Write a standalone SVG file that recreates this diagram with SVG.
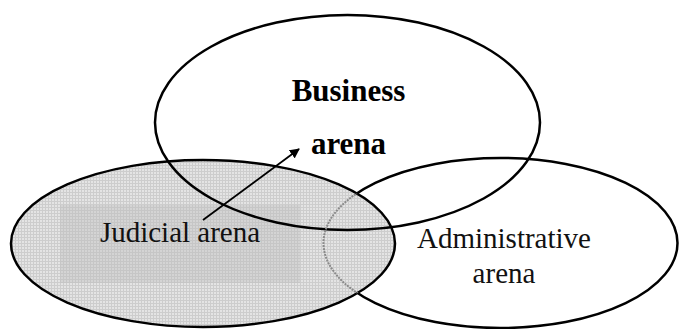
<svg xmlns="http://www.w3.org/2000/svg" width="679" height="329" viewBox="0 0 679 329">
<style>
.outline{fill:none;stroke:#000;stroke-width:2.5}
.reg{font-family:"Liberation Serif","Times New Roman",serif;font-size:29px;fill:#111;text-anchor:middle}
.bold{font-family:"Liberation Serif","Times New Roman",serif;font-size:31px;font-weight:bold;fill:#000;text-anchor:middle}
</style>
<defs>
<pattern id="grid" width="3" height="3" patternUnits="userSpaceOnUse">
<rect width="3" height="3" fill="#e4e4e4"/>
<path d="M0 0.5H3M0.5 0V3" stroke="#cdcdcd" stroke-width="1"/>
</pattern>
<pattern id="grid2" width="3" height="3" patternUnits="userSpaceOnUse">
<rect width="3" height="3" fill="#d4d4d4"/>
<path d="M0 0.5H3M0.5 0V3" stroke="#c6c6c6" stroke-width="1"/>
</pattern>
<clipPath id="jclip"><ellipse cx="203" cy="243.5" rx="192" ry="83.5"/></clipPath>
<clipPath id="jout"><path d="M0 0H679V329H0Z M11 243.5 A192 83.5 0 1 0 395 243.5 A192 83.5 0 1 0 11 243.5Z" clip-rule="evenodd"/></clipPath>
<marker id="ah" markerWidth="10" markerHeight="10" refX="9" refY="5" orient="auto" markerUnits="userSpaceOnUse" viewBox="0 0 10 10">
<path d="M0 0L10 5L0 10Z" fill="#000"/>
</marker>
</defs>
<rect width="679" height="329" fill="#fff"/>
<g id="judicial">
<ellipse cx="203" cy="243.5" rx="192" ry="83.5" fill="url(#grid)"/>
<rect x="60" y="205" width="240" height="78" fill="url(#grid2)"/>
<ellipse cx="203" cy="243.5" rx="192" ry="83.5" class="outline"/>
<text class="reg" x="180" y="242">Judicial arena</text>
</g>
<g id="business">
<ellipse cx="347.5" cy="122.5" rx="192.5" ry="107.5" class="outline"/>
<text class="bold" x="348.5" y="101">Business</text>
<text class="bold" x="348.5" y="154">arena</text>
</g>
<g id="administrative">
<ellipse cx="500.5" cy="243" rx="177" ry="85" class="outline" clip-path="url(#jout)"/>
<ellipse cx="500.5" cy="243" rx="177" ry="85" fill="none" stroke="#8a8a8a" stroke-width="2" stroke-dasharray="2 1" clip-path="url(#jclip)"/>
<text class="reg" x="504" y="248">Administrative</text>
<text class="reg" x="504" y="283">arena</text>
</g>
<g id="connectors">
<line x1="203" y1="220" x2="299" y2="149" stroke="#000" stroke-width="1.8" marker-end="url(#ah)"/>
</g>
</svg>
